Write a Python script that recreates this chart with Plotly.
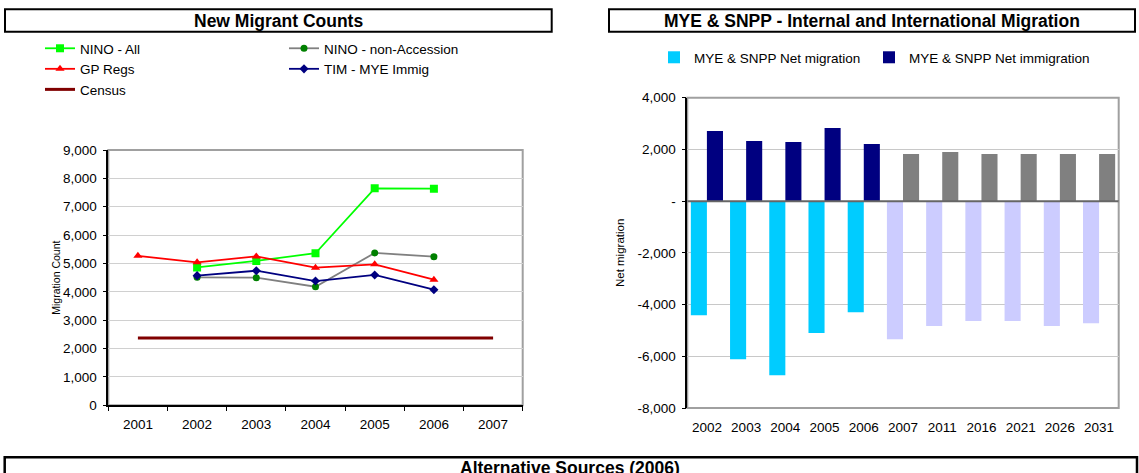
import plotly.graph_objects as go

W, H = 1139, 473
FONT = "Liberation Sans, Arial, sans-serif"

# --- left chart: New Migrant Counts ---
count_years = ["2001", "2002", "2003", "2004", "2005", "2006", "2007"]
nino_all = [None, 4860, 5090, 5360, 7650, 7635, None]
nino_non_accession = [None, 4510, 4500, 4180, 5370, 5240, None]
gp_regs = [5270, 5040, 5250, 4850, 4970, 4430, None]
tim_mye_immig = [None, 4570, 4745, 4380, 4595, 4075, None]
census = [2370, 2370, 2370, 2370, 2370, 2370, 2370]

# --- right chart: MYE & SNPP migration ---
mig_years = ["2002", "2003", "2004", "2005", "2006", "2007",
             "2011", "2016", "2021", "2026", "2031"]
net_migration = [-4410, -6110, -6730, -5100, -4300, -5340,
                 -4830, -4640, -4640, -4830, -4720]
net_immigration = [2710, 2330, 2290, 2830, 2210, 1820,
                   1900, 1820, 1820, 1820, 1820]
n_estimates = 5  # 2002-2006 are estimates, the rest are projections
mig_tickvals = [-8000, -6000, -4000, -2000, 0, 2000, 4000]
mig_ticktext = ["-8,000", "-6,000", "-4,000", "-2,000", "-", "2,000", "4,000"]


def px_x(x):
    return x / W


def px_y(y):
    return 1 - y / H


def split_colors(first, rest, n):
    return [first if i < n_estimates else rest for i in range(n)]


def line_trace(name, y, color, symbol, size, legend, line_color=None, width=1.8):
    return go.Scatter(
        x=count_years, y=y, name=name, mode="lines+markers",
        line=dict(color=line_color or color, width=width),
        marker=dict(color=color, symbol=symbol, size=size),
        xaxis="x", yaxis="y", legend=legend,
    )


traces = [
    line_trace("NINO - All", nino_all, "#00ff00", "square", 8, "legend"),
    line_trace("NINO - non-Accession", nino_non_accession, "#008000", "circle", 7,
               "legend3", line_color="#808080"),
    line_trace("GP Regs", gp_regs, "#ff0000", "triangle-up", 8, "legend"),
    line_trace("TIM - MYE Immig", tim_mye_immig, "#000080", "diamond", 7, "legend3"),
    go.Scatter(x=count_years, y=census, name="Census", mode="lines",
               line=dict(color="#800000", width=3),
               xaxis="x", yaxis="y", legend="legend"),
    go.Bar(x=mig_years, y=net_migration, name="MYE & SNPP Net migration",
           marker=dict(color=split_colors("#00ccff", "#ccccff", len(mig_years)), line_width=0),
           xaxis="x2", yaxis="y2", legend="legend2"),
    go.Bar(x=mig_years, y=net_immigration, name="MYE & SNPP Net immigration",
           marker=dict(color=split_colors("#000080", "#808080", len(mig_years)), line_width=0),
           xaxis="x2", yaxis="y2", legend="legend4"),
]

fig = go.Figure(traces)

tick_font = dict(family=FONT, size=13.5, color="#000000")


def legend_at(x, y):
    return dict(
        orientation="v", x=px_x(x), y=px_y(y), xanchor="left", yanchor="top",
        bgcolor="rgba(0,0,0,0)", borderwidth=0, tracegroupgap=0,
        font=dict(family=FONT, size=13.5), traceorder="normal",
    )


fig.update_layout(
    width=W, height=H, autosize=False,
    margin=dict(l=0, r=0, t=0, b=0, autoexpand=False),
    paper_bgcolor="white", plot_bgcolor="white",
    font=dict(family=FONT, size=13.5, color="#000000"),
    barmode="group", bargap=0.18, bargroupgap=0,
    xaxis=dict(
        domain=[px_x(108.3), px_x(522.7)], anchor="y",
        type="category", categoryorder="array", categoryarray=count_years,
        range=[-0.5, 6.5], tickson="boundaries",
        showline=True, linecolor="#000000", linewidth=1.5,
        ticks="outside", ticklen=4, tickcolor="#000000",
        showgrid=False, tickfont=tick_font, ticklabelstandoff=6,
        automargin=False,
    ),
    yaxis=dict(
        domain=[px_y(405.3), px_y(150)], anchor="x",
        range=[0, 9000], dtick=1000, tickformat=",",
        showline=True, linecolor="#000000", linewidth=1.5,
        ticks="outside", ticklen=4, tickcolor="#000000",
        showgrid=True, gridcolor="#d0d0d0", gridwidth=1,
        zeroline=False, tickfont=tick_font, ticklabelstandoff=3,
        title=dict(text="Migration Count", font=dict(family=FONT, size=10.5),
                   standoff=0),
        automargin=False,
    ),
    xaxis2=dict(
        domain=[px_x(687.3), px_x(1118.7)], anchor="y2",
        type="category", categoryorder="array", categoryarray=mig_years,
        showline=False, ticks="", showgrid=False,
        tickfont=tick_font, ticklabelstandoff=9, automargin=False,
    ),
    yaxis2=dict(
        domain=[px_y(408), px_y(97.7)], anchor="x2",
        range=[-8000, 4000], tickvals=mig_tickvals, ticktext=mig_ticktext,
        showline=True, linecolor="#000000", linewidth=1.5,
        ticks="outside", ticklen=4, tickcolor="#000000",
        showgrid=True, gridcolor="#c8c8c8", gridwidth=1,
        zeroline=False, tickfont=tick_font, ticklabelstandoff=3,
        title=dict(text="Net migration", font=dict(family=FONT, size=11.5),
                   standoff=11),
        automargin=False,
    ),
    legend=legend_at(40, 33),
    legend3=legend_at(284, 33),
    legend2=legend_at(654, 42),
    legend4=legend_at(869, 42),
    showlegend=True,
)

# plot-area frames (grey top and right edges), title boxes and the zero line
shapes = [
    dict(type="rect", xref="x domain", yref="y domain", x0=0, x1=1, y0=0, y1=1,
         line=dict(color="#a0a0a0", width=2), layer="below"),
    dict(type="rect", xref="x2 domain", yref="y2 domain", x0=0, x1=1, y0=0, y1=1,
         line=dict(color="#a0a0a0", width=2), layer="below"),
    dict(type="line", xref="x2 domain", yref="y2", x0=0, x1=1, y0=0, y1=0,
         line=dict(color="#666666", width=2), layer="above"),
    dict(type="rect", xref="paper", yref="paper",
         x0=px_x(5), x1=px_x(551.7), y0=px_y(31.7), y1=px_y(9.3),
         line=dict(color="#000000", width=2)),
    dict(type="rect", xref="paper", yref="paper",
         x0=px_x(609), x1=px_x(1135), y0=px_y(31.7), y1=px_y(9.3),
         line=dict(color="#000000", width=2)),
    dict(type="rect", xref="paper", yref="paper",
         x0=px_x(4.7), x1=px_x(1137), y0=px_y(490), y1=px_y(457.3),
         line=dict(color="#000000", width=2.5)),
]
fig.update_layout(shapes=shapes)

title_font = dict(family=FONT, size=17.5, color="#000000")
annotations = [
    dict(text="<b>New Migrant Counts</b>", x=px_x(278.3), y=px_y(20.5)),
    dict(text="<b>MYE & SNPP - Internal and International Migration</b>",
         x=px_x(872), y=px_y(20.5)),
    dict(text="<b>Alternative Sources (2006)</b>", x=px_x(569.5), y=px_y(468)),
]
for a in annotations:
    a.update(xref="paper", yref="paper", showarrow=False,
             xanchor="center", yanchor="middle", font=title_font)
fig.update_layout(annotations=annotations)

# the page's default body margin would push the figure 8px down and right
fig.write_html("out.html", config={"displayModeBar": False},
               post_script="document.body.style.margin = '0';")
